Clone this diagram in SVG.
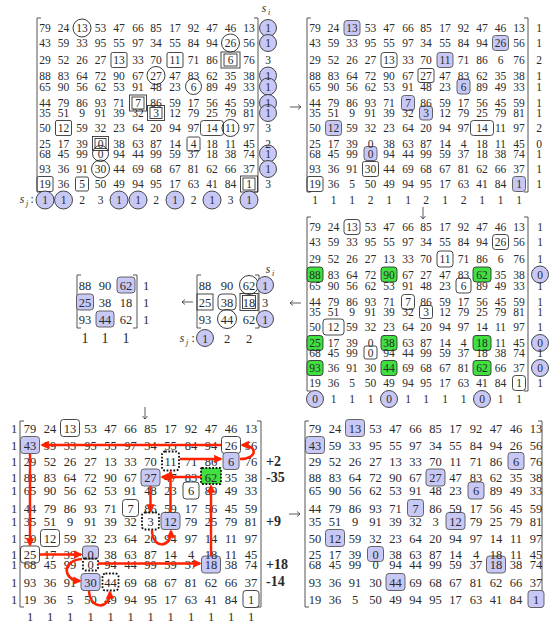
<svg xmlns="http://www.w3.org/2000/svg" width="552" height="625" viewBox="0 0 552 625">
<defs>
<style>
text{font-family:"Liberation Serif","Times New Roman",serif;fill:#2a2a2a;text-anchor:middle}
.m{font-size:11.5px}
.b{font-size:12.5px}
.b5{font-size:12.5px}
.it{font-style:italic}
.sub{font-style:italic;font-size:8px}
.bold{font-weight:bold;font-size:14px;text-anchor:start}
.bx{fill:none;stroke:#333;stroke-width:0.9}
.fb{fill:#c8c8f6;stroke:#555;stroke-width:0.9}
.gb{fill:#3fe03f;stroke:#333;stroke-width:0.9}
.dt{fill:none;stroke:#111;stroke-width:1.8;stroke-dasharray:1.8 1.6}
.dg{fill:#3fe03f;stroke:#111;stroke-width:1.8;stroke-dasharray:1.8 1.6}
.ci{fill:none;stroke:#222;stroke-width:0.9}
.cf{fill:#c8c8f6;stroke:#333;stroke-width:0.9}
.br{fill:none;stroke:#555;stroke-width:1}
.red{fill:none;stroke:#ff2200;stroke-width:2.5;marker-end:url(#ah)}
.ar{fill:none;stroke:#333;stroke-width:0.8}
</style>
<marker id="ah" viewBox="0 0 10 10" refX="8" refY="5" markerWidth="3.4" markerHeight="3.4" orient="auto"><path d="M0,0 L10,5 L0,10 z" fill="#ff2200"/></marker>
</defs>

<g id="m1" transform="translate(45,0)">
<path class="br" d="M-4,18H-8V192H-4M209,18H213V192H209"/>
<circle class="ci" cx="37" cy="28" r="9"/>
<circle class="ci" cx="185.5" cy="43" r="9"/>
<circle class="ci" cx="111" cy="75.5" r="9"/>
<circle class="ci" cx="148.5" cy="86.5" r="8"/>
<circle class="ci" cx="185.5" cy="128" r="8.5"/>
<circle class="ci" cx="55.5" cy="153.5" r="8"/>
<circle class="ci" cx="55.5" cy="169" r="9"/>
<rect class="bx" x="66" y="52.5" width="16" height="15" rx="1.5"/>
<rect class="bx" x="122" y="52.5" width="16" height="15" rx="1.5"/>
<rect class="bx" x="10.5" y="120.5" width="16" height="15" rx="1.5"/>
<rect class="bx" x="142" y="137" width="13" height="14" rx="1.5"/>
<rect class="bx" x="-8" y="176.5" width="16" height="15" rx="1.5"/>
<rect class="bx" x="30.5" y="177" width="13" height="14" rx="1.5"/>
<rect class="bx" x="155.5" y="120.5" width="23" height="15" rx="3"/>
<rect class="bx" x="176" y="52" width="19" height="16"/><rect class="bx" x="179" y="54" width="13" height="12"/>
<rect class="bx" x="84.5" y="95" width="17" height="16"/><rect class="bx" x="87" y="97" width="12" height="12"/>
<rect class="bx" x="102.5" y="105.5" width="17" height="15"/><rect class="bx" x="105" y="107.5" width="12" height="11"/>
<rect class="bx" x="47.5" y="136.5" width="16" height="14"/><rect class="bx" x="50" y="138.5" width="11" height="10"/>
<rect class="bx" x="195.5" y="176" width="17" height="16"/><rect class="bx" x="198" y="178" width="12" height="12"/>
<text class="m" y="32"><tspan x="0">79</tspan><tspan x="18.5">24</tspan><tspan x="37">13</tspan><tspan x="55.5">53</tspan><tspan x="74">47</tspan><tspan x="93">66</tspan><tspan x="111">85</tspan><tspan x="130">17</tspan><tspan x="148.5">92</tspan><tspan x="167">47</tspan><tspan x="185.5">46</tspan><tspan x="204">13</tspan></text>
<text class="m" y="47"><tspan x="0">43</tspan><tspan x="18.5">59</tspan><tspan x="37">33</tspan><tspan x="55.5">95</tspan><tspan x="74">55</tspan><tspan x="93">97</tspan><tspan x="111">34</tspan><tspan x="130">55</tspan><tspan x="148.5">84</tspan><tspan x="167">94</tspan><tspan x="185.5">26</tspan><tspan x="204">56</tspan></text>
<text class="m" y="64"><tspan x="0">29</tspan><tspan x="18.5">52</tspan><tspan x="37">26</tspan><tspan x="55.5">27</tspan><tspan x="74">13</tspan><tspan x="93">33</tspan><tspan x="111">70</tspan><tspan x="130">11</tspan><tspan x="148.5">71</tspan><tspan x="167">86</tspan><tspan x="185.5">6</tspan><tspan x="204">76</tspan></text>
<text class="m" y="79.5"><tspan x="0">88</tspan><tspan x="18.5">83</tspan><tspan x="37">64</tspan><tspan x="55.5">72</tspan><tspan x="74">90</tspan><tspan x="93">67</tspan><tspan x="111">27</tspan><tspan x="130">47</tspan><tspan x="148.5">83</tspan><tspan x="167">62</tspan><tspan x="185.5">35</tspan><tspan x="204">38</tspan></text>
<text class="m" y="90.5"><tspan x="0">65</tspan><tspan x="18.5">90</tspan><tspan x="37">56</tspan><tspan x="55.5">62</tspan><tspan x="74">53</tspan><tspan x="93">91</tspan><tspan x="111">48</tspan><tspan x="130">23</tspan><tspan x="148.5">6</tspan><tspan x="167">89</tspan><tspan x="185.5">49</tspan><tspan x="204">33</tspan></text>
<text class="m" y="107"><tspan x="0">44</tspan><tspan x="18.5">79</tspan><tspan x="37">86</tspan><tspan x="55.5">93</tspan><tspan x="74">71</tspan><tspan x="93">7</tspan><tspan x="111">86</tspan><tspan x="130">59</tspan><tspan x="148.5">17</tspan><tspan x="167">56</tspan><tspan x="185.5">45</tspan><tspan x="204">59</tspan></text>
<text class="m" y="117"><tspan x="0">35</tspan><tspan x="18.5">51</tspan><tspan x="37">9</tspan><tspan x="55.5">91</tspan><tspan x="74">39</tspan><tspan x="93">32</tspan><tspan x="111">3</tspan><tspan x="130">12</tspan><tspan x="148.5">79</tspan><tspan x="167">25</tspan><tspan x="185.5">79</tspan><tspan x="204">81</tspan></text>
<text class="m" y="132"><tspan x="0">50</tspan><tspan x="18.5">12</tspan><tspan x="37">59</tspan><tspan x="55.5">32</tspan><tspan x="74">23</tspan><tspan x="93">64</tspan><tspan x="111">20</tspan><tspan x="130">94</tspan><tspan x="148.5">97</tspan><tspan x="167">14</tspan><tspan x="185.5">11</tspan><tspan x="204">97</tspan></text>
<text class="m" y="148"><tspan x="0">25</tspan><tspan x="18.5">17</tspan><tspan x="37">39</tspan><tspan x="55.5">0</tspan><tspan x="74">38</tspan><tspan x="93">63</tspan><tspan x="111">87</tspan><tspan x="130">14</tspan><tspan x="148.5">4</tspan><tspan x="167">18</tspan><tspan x="185.5">11</tspan><tspan x="204">45</tspan></text>
<text class="m" y="157.5"><tspan x="0">68</tspan><tspan x="18.5">45</tspan><tspan x="37">99</tspan><tspan x="55.5">0</tspan><tspan x="74">94</tspan><tspan x="93">44</tspan><tspan x="111">99</tspan><tspan x="130">59</tspan><tspan x="148.5">37</tspan><tspan x="167">18</tspan><tspan x="185.5">38</tspan><tspan x="204">74</tspan></text>
<text class="m" y="173"><tspan x="0">93</tspan><tspan x="18.5">36</tspan><tspan x="37">91</tspan><tspan x="55.5">30</tspan><tspan x="74">44</tspan><tspan x="93">69</tspan><tspan x="111">68</tspan><tspan x="130">67</tspan><tspan x="148.5">81</tspan><tspan x="167">62</tspan><tspan x="185.5">66</tspan><tspan x="204">37</tspan></text>
<text class="m" y="188"><tspan x="0">19</tspan><tspan x="18.5">36</tspan><tspan x="37">5</tspan><tspan x="55.5">50</tspan><tspan x="74">49</tspan><tspan x="93">94</tspan><tspan x="111">95</tspan><tspan x="130">17</tspan><tspan x="148.5">63</tspan><tspan x="167">41</tspan><tspan x="185.5">84</tspan><tspan x="204">1</tspan></text>
<text class="m it" x="219" y="12">s</text><text class="sub" x="224" y="15">i</text>
<circle class="cf" cx="223" cy="28" r="8.5"/><circle class="cf" cx="223" cy="43" r="8.5"/><circle class="cf" cx="223" cy="75.5" r="8.5"/><circle class="cf" cx="223" cy="86.5" r="8.5"/><circle class="cf" cx="223" cy="103" r="8.5"/><circle class="cf" cx="223" cy="113" r="8.5"/><circle class="cf" cx="223" cy="153.5" r="8.5"/><circle class="cf" cx="223" cy="169" r="8.5"/>
<text class="m" x="223" y="32">1</text><text class="m" x="223" y="47">1</text><text class="m" x="223" y="64">3</text><text class="m" x="223" y="79.5">1</text><text class="m" x="223" y="90.5">1</text><text class="m" x="223" y="107">1</text><text class="m" x="223" y="117">1</text><text class="m" x="223" y="132">3</text><text class="m" x="223" y="148">2</text><text class="m" x="223" y="157.5">1</text><text class="m" x="223" y="173">1</text><text class="m" x="223" y="188">3</text>
<text class="m it" x="-23" y="203">s</text><text class="sub" x="-18" y="206">j</text><text class="m" x="-13" y="203">:</text>
<circle class="cf" cx="0" cy="200" r="9"/><circle class="cf" cx="18.5" cy="200" r="9"/><circle class="cf" cx="74" cy="200" r="9"/><circle class="cf" cx="93" cy="200" r="9"/><circle class="cf" cx="130" cy="200" r="9"/><circle class="cf" cx="167" cy="200" r="9"/><circle class="cf" cx="204" cy="200" r="9"/>
<text class="m" y="204"><tspan x="0">1</tspan><tspan x="18.5">1</tspan><tspan x="37">2</tspan><tspan x="55.5">3</tspan><tspan x="74">1</tspan><tspan x="93">1</tspan><tspan x="111">2</tspan><tspan x="130">1</tspan><tspan x="148.5">2</tspan><tspan x="167">1</tspan><tspan x="185.5">3</tspan><tspan x="204">1</tspan></text>
</g>

<g id="m2" transform="translate(315,0)">
<path class="br" d="M-4,18H-8V192H-4M209,18H213V192H209"/>
<rect class="fb" x="29" y="20.5" width="16" height="15" rx="3"/>
<rect class="fb" x="177.5" y="35.5" width="16" height="15" rx="3"/>
<rect class="fb" x="122" y="52.5" width="16" height="15" rx="3"/>
<rect class="fb" x="142" y="79" width="13" height="15" rx="3"/>
<rect class="fb" x="86.5" y="95.5" width="13" height="15" rx="3"/>
<rect class="fb" x="104.5" y="106" width="13" height="14" rx="3"/>
<rect class="fb" x="10.5" y="120.5" width="16" height="15" rx="3"/>
<rect class="fb" x="49" y="146.5" width="13" height="14" rx="3"/>
<rect class="fb" x="197.5" y="176.5" width="13" height="15" rx="3"/>
<rect class="bx" x="66" y="52.5" width="16" height="15" rx="3"/>
<rect class="bx" x="103" y="68.5" width="16" height="14" rx="2"/>
<rect class="bx" x="155.5" y="120.5" width="23" height="15" rx="3"/>
<rect class="bx" x="47.5" y="161.5" width="16" height="15" rx="2"/>
<rect class="bx" x="-8" y="176.5" width="16" height="15" rx="2"/>
<text class="m" y="32"><tspan x="0">79</tspan><tspan x="18.5">24</tspan><tspan x="37">13</tspan><tspan x="55.5">53</tspan><tspan x="74">47</tspan><tspan x="93">66</tspan><tspan x="111">85</tspan><tspan x="130">17</tspan><tspan x="148.5">92</tspan><tspan x="167">47</tspan><tspan x="185.5">46</tspan><tspan x="204">13</tspan></text>
<text class="m" y="47"><tspan x="0">43</tspan><tspan x="18.5">59</tspan><tspan x="37">33</tspan><tspan x="55.5">95</tspan><tspan x="74">55</tspan><tspan x="93">97</tspan><tspan x="111">34</tspan><tspan x="130">55</tspan><tspan x="148.5">84</tspan><tspan x="167">94</tspan><tspan x="185.5">26</tspan><tspan x="204">56</tspan></text>
<text class="m" y="64"><tspan x="0">29</tspan><tspan x="18.5">52</tspan><tspan x="37">26</tspan><tspan x="55.5">27</tspan><tspan x="74">13</tspan><tspan x="93">33</tspan><tspan x="111">70</tspan><tspan x="130">11</tspan><tspan x="148.5">71</tspan><tspan x="167">86</tspan><tspan x="185.5">6</tspan><tspan x="204">76</tspan></text>
<text class="m" y="79.5"><tspan x="0">88</tspan><tspan x="18.5">83</tspan><tspan x="37">64</tspan><tspan x="55.5">72</tspan><tspan x="74">90</tspan><tspan x="93">67</tspan><tspan x="111">27</tspan><tspan x="130">47</tspan><tspan x="148.5">83</tspan><tspan x="167">62</tspan><tspan x="185.5">35</tspan><tspan x="204">38</tspan></text>
<text class="m" y="90.5"><tspan x="0">65</tspan><tspan x="18.5">90</tspan><tspan x="37">56</tspan><tspan x="55.5">62</tspan><tspan x="74">53</tspan><tspan x="93">91</tspan><tspan x="111">48</tspan><tspan x="130">23</tspan><tspan x="148.5">6</tspan><tspan x="167">89</tspan><tspan x="185.5">49</tspan><tspan x="204">33</tspan></text>
<text class="m" y="107"><tspan x="0">44</tspan><tspan x="18.5">79</tspan><tspan x="37">86</tspan><tspan x="55.5">93</tspan><tspan x="74">71</tspan><tspan x="93">7</tspan><tspan x="111">86</tspan><tspan x="130">59</tspan><tspan x="148.5">17</tspan><tspan x="167">56</tspan><tspan x="185.5">45</tspan><tspan x="204">59</tspan></text>
<text class="m" y="117"><tspan x="0">35</tspan><tspan x="18.5">51</tspan><tspan x="37">9</tspan><tspan x="55.5">91</tspan><tspan x="74">39</tspan><tspan x="93">32</tspan><tspan x="111">3</tspan><tspan x="130">12</tspan><tspan x="148.5">79</tspan><tspan x="167">25</tspan><tspan x="185.5">79</tspan><tspan x="204">81</tspan></text>
<text class="m" y="132"><tspan x="0">50</tspan><tspan x="18.5">12</tspan><tspan x="37">59</tspan><tspan x="55.5">32</tspan><tspan x="74">23</tspan><tspan x="93">64</tspan><tspan x="111">20</tspan><tspan x="130">94</tspan><tspan x="148.5">97</tspan><tspan x="167">14</tspan><tspan x="185.5">11</tspan><tspan x="204">97</tspan></text>
<text class="m" y="148"><tspan x="0">25</tspan><tspan x="18.5">17</tspan><tspan x="37">39</tspan><tspan x="55.5">0</tspan><tspan x="74">38</tspan><tspan x="93">63</tspan><tspan x="111">87</tspan><tspan x="130">14</tspan><tspan x="148.5">4</tspan><tspan x="167">18</tspan><tspan x="185.5">11</tspan><tspan x="204">45</tspan></text>
<text class="m" y="157.5"><tspan x="0">68</tspan><tspan x="18.5">45</tspan><tspan x="37">99</tspan><tspan x="55.5">0</tspan><tspan x="74">94</tspan><tspan x="93">44</tspan><tspan x="111">99</tspan><tspan x="130">59</tspan><tspan x="148.5">37</tspan><tspan x="167">18</tspan><tspan x="185.5">38</tspan><tspan x="204">74</tspan></text>
<text class="m" y="173"><tspan x="0">93</tspan><tspan x="18.5">36</tspan><tspan x="37">91</tspan><tspan x="55.5">30</tspan><tspan x="74">44</tspan><tspan x="93">69</tspan><tspan x="111">68</tspan><tspan x="130">67</tspan><tspan x="148.5">81</tspan><tspan x="167">62</tspan><tspan x="185.5">66</tspan><tspan x="204">37</tspan></text>
<text class="m" y="188"><tspan x="0">19</tspan><tspan x="18.5">36</tspan><tspan x="37">5</tspan><tspan x="55.5">50</tspan><tspan x="74">49</tspan><tspan x="93">94</tspan><tspan x="111">95</tspan><tspan x="130">17</tspan><tspan x="148.5">63</tspan><tspan x="167">41</tspan><tspan x="185.5">84</tspan><tspan x="204">1</tspan></text>
<text class="m" x="224" y="32">1</text><text class="m" x="224" y="47">1</text><text class="m" x="224" y="64">2</text><text class="m" x="224" y="79.5">1</text><text class="m" x="224" y="90.5">1</text><text class="m" x="224" y="107">1</text><text class="m" x="224" y="117">1</text><text class="m" x="224" y="132">2</text><text class="m" x="224" y="148">0</text><text class="m" x="224" y="157.5">1</text><text class="m" x="224" y="173">1</text><text class="m" x="224" y="188">1</text>
<text class="m" y="204"><tspan x="0">1</tspan><tspan x="18.5">1</tspan><tspan x="37">1</tspan><tspan x="55.5">2</tspan><tspan x="74">1</tspan><tspan x="93">1</tspan><tspan x="111">2</tspan><tspan x="130">1</tspan><tspan x="148.5">2</tspan><tspan x="167">1</tspan><tspan x="185.5">1</tspan><tspan x="204">1</tspan></text>
</g>

<g id="m3" transform="translate(315,199)">
<path class="br" d="M-4,18H-8V192H-4M209,18H213V192H209"/>
<rect class="gb" x="-8" y="68" width="16" height="15" rx="3"/>
<rect class="gb" x="66" y="68" width="16" height="15" rx="3"/>
<rect class="gb" x="158" y="68" width="18" height="15" rx="3"/>
<rect class="gb" x="-8" y="136.5" width="16" height="15" rx="3"/>
<rect class="gb" x="66" y="136.5" width="16" height="15" rx="3"/>
<rect class="gb" x="158" y="136.5" width="18" height="15" rx="3"/>
<rect class="gb" x="-8" y="161.5" width="16" height="15" rx="3"/>
<rect class="gb" x="66" y="161.5" width="16" height="15" rx="3"/>
<rect class="gb" x="158" y="161.5" width="18" height="15" rx="3"/>
<rect class="bx" x="29" y="20.5" width="16" height="15" rx="3"/>
<rect class="bx" x="177.5" y="35.5" width="16" height="15" rx="3"/>
<rect class="bx" x="122" y="52" width="16" height="16" rx="3"/>
<rect class="bx" x="141" y="79" width="15" height="15" rx="3"/>
<rect class="bx" x="86.5" y="95.5" width="13" height="15" rx="3"/>
<rect class="bx" x="104.5" y="106.5" width="13" height="13" rx="2"/>
<rect class="bx" x="8" y="120" width="21" height="16" rx="3"/>
<rect class="bx" x="49" y="147" width="13" height="13" rx="2"/>
<rect class="bx" x="197.5" y="176.5" width="13" height="15" rx="3"/>
<text class="m" y="32"><tspan x="0">79</tspan><tspan x="18.5">24</tspan><tspan x="37">13</tspan><tspan x="55.5">53</tspan><tspan x="74">47</tspan><tspan x="93">66</tspan><tspan x="111">85</tspan><tspan x="130">17</tspan><tspan x="148.5">92</tspan><tspan x="167">47</tspan><tspan x="185.5">46</tspan><tspan x="204">13</tspan></text>
<text class="m" y="47"><tspan x="0">43</tspan><tspan x="18.5">59</tspan><tspan x="37">33</tspan><tspan x="55.5">95</tspan><tspan x="74">55</tspan><tspan x="93">97</tspan><tspan x="111">34</tspan><tspan x="130">55</tspan><tspan x="148.5">84</tspan><tspan x="167">94</tspan><tspan x="185.5">26</tspan><tspan x="204">56</tspan></text>
<text class="m" y="64"><tspan x="0">29</tspan><tspan x="18.5">52</tspan><tspan x="37">26</tspan><tspan x="55.5">27</tspan><tspan x="74">13</tspan><tspan x="93">33</tspan><tspan x="111">70</tspan><tspan x="130">11</tspan><tspan x="148.5">71</tspan><tspan x="167">86</tspan><tspan x="185.5">6</tspan><tspan x="204">76</tspan></text>
<text class="m" y="79.5"><tspan x="0">88</tspan><tspan x="18.5">83</tspan><tspan x="37">64</tspan><tspan x="55.5">72</tspan><tspan x="74">90</tspan><tspan x="93">67</tspan><tspan x="111">27</tspan><tspan x="130">47</tspan><tspan x="148.5">83</tspan><tspan x="167">62</tspan><tspan x="185.5">35</tspan><tspan x="204">38</tspan></text>
<text class="m" y="90.5"><tspan x="0">65</tspan><tspan x="18.5">90</tspan><tspan x="37">56</tspan><tspan x="55.5">62</tspan><tspan x="74">53</tspan><tspan x="93">91</tspan><tspan x="111">48</tspan><tspan x="130">23</tspan><tspan x="148.5">6</tspan><tspan x="167">89</tspan><tspan x="185.5">49</tspan><tspan x="204">33</tspan></text>
<text class="m" y="107"><tspan x="0">44</tspan><tspan x="18.5">79</tspan><tspan x="37">86</tspan><tspan x="55.5">93</tspan><tspan x="74">71</tspan><tspan x="93">7</tspan><tspan x="111">86</tspan><tspan x="130">59</tspan><tspan x="148.5">17</tspan><tspan x="167">56</tspan><tspan x="185.5">45</tspan><tspan x="204">59</tspan></text>
<text class="m" y="117"><tspan x="0">35</tspan><tspan x="18.5">51</tspan><tspan x="37">9</tspan><tspan x="55.5">91</tspan><tspan x="74">39</tspan><tspan x="93">32</tspan><tspan x="111">3</tspan><tspan x="130">12</tspan><tspan x="148.5">79</tspan><tspan x="167">25</tspan><tspan x="185.5">79</tspan><tspan x="204">81</tspan></text>
<text class="m" y="132"><tspan x="0">50</tspan><tspan x="18.5">12</tspan><tspan x="37">59</tspan><tspan x="55.5">32</tspan><tspan x="74">23</tspan><tspan x="93">64</tspan><tspan x="111">20</tspan><tspan x="130">94</tspan><tspan x="148.5">97</tspan><tspan x="167">14</tspan><tspan x="185.5">11</tspan><tspan x="204">97</tspan></text>
<text class="m" y="148"><tspan x="0">25</tspan><tspan x="18.5">17</tspan><tspan x="37">39</tspan><tspan x="55.5">0</tspan><tspan x="74">38</tspan><tspan x="93">63</tspan><tspan x="111">87</tspan><tspan x="130">14</tspan><tspan x="148.5">4</tspan><tspan x="167">18</tspan><tspan x="185.5">11</tspan><tspan x="204">45</tspan></text>
<text class="m" y="157.5"><tspan x="0">68</tspan><tspan x="18.5">45</tspan><tspan x="37">99</tspan><tspan x="55.5">0</tspan><tspan x="74">94</tspan><tspan x="93">44</tspan><tspan x="111">99</tspan><tspan x="130">59</tspan><tspan x="148.5">37</tspan><tspan x="167">18</tspan><tspan x="185.5">38</tspan><tspan x="204">74</tspan></text>
<text class="m" y="173"><tspan x="0">93</tspan><tspan x="18.5">36</tspan><tspan x="37">91</tspan><tspan x="55.5">30</tspan><tspan x="74">44</tspan><tspan x="93">69</tspan><tspan x="111">68</tspan><tspan x="130">67</tspan><tspan x="148.5">81</tspan><tspan x="167">62</tspan><tspan x="185.5">66</tspan><tspan x="204">37</tspan></text>
<text class="m" y="188"><tspan x="0">19</tspan><tspan x="18.5">36</tspan><tspan x="37">5</tspan><tspan x="55.5">50</tspan><tspan x="74">49</tspan><tspan x="93">94</tspan><tspan x="111">95</tspan><tspan x="130">17</tspan><tspan x="148.5">63</tspan><tspan x="167">41</tspan><tspan x="185.5">84</tspan><tspan x="204">1</tspan></text>
<circle class="cf" cx="225" cy="75.5" r="8.5"/><circle class="cf" cx="225" cy="144" r="8.5"/><circle class="cf" cx="225" cy="169" r="8.5"/>
<text class="m" x="225" y="32">1</text><text class="m" x="225" y="47">1</text><text class="m" x="225" y="64">1</text><text class="m" x="225" y="79.5">0</text><text class="m" x="225" y="90.5">1</text><text class="m" x="225" y="107">1</text><text class="m" x="225" y="117">1</text><text class="m" x="225" y="132">1</text><text class="m" x="225" y="148">0</text><text class="m" x="225" y="157.5">1</text><text class="m" x="225" y="173">0</text><text class="m" x="225" y="188">1</text>
<circle class="cf" cx="0" cy="200" r="8.5"/><circle class="cf" cx="74" cy="200" r="8.5"/><circle class="cf" cx="167" cy="200" r="8.5"/>
<text class="m" y="204"><tspan x="0">0</tspan><tspan x="18.5">1</tspan><tspan x="37">1</tspan><tspan x="55.5">1</tspan><tspan x="74">0</tspan><tspan x="93">1</tspan><tspan x="111">1</tspan><tspan x="130">1</tspan><tspan x="148.5">1</tspan><tspan x="167">0</tspan><tspan x="185.5">1</tspan><tspan x="204">1</tspan></text>
</g>

<g id="s1">
<path class="br" d="M81,275H77V328H81M133,275H137V328H133"/>
<rect class="fb" x="117" y="277" width="18" height="16" rx="3"/>
<rect class="fb" x="76.5" y="294" width="17" height="16" rx="3"/>
<rect class="fb" x="96" y="311" width="18" height="16" rx="3"/>
<text class="b" y="289.5"><tspan x="85">88</tspan><tspan x="105">90</tspan><tspan x="126">62</tspan><tspan x="146">1</tspan></text>
<text class="b" y="306.5"><tspan x="85">25</tspan><tspan x="105">38</tspan><tspan x="126">18</tspan><tspan x="146">1</tspan></text>
<text class="b" y="323.5"><tspan x="85">93</tspan><tspan x="105">44</tspan><tspan x="126">62</tspan><tspan x="146">1</tspan></text>
<text class="b" style="font-size:14px" y="343"><tspan x="85">1</tspan><tspan x="105">1</tspan><tspan x="126">1</tspan></text>
</g>

<g id="s2">
<path class="br" d="M201,275H197V328H201M255,275H259V328H255"/>
<circle class="ci" cx="249" cy="285" r="9.5"/>
<rect class="bx" x="197" y="294" width="16" height="16"/>
<rect class="bx" x="218" y="294" width="18" height="16" rx="4"/>
<rect class="bx" x="240" y="293.5" width="18" height="17"/><rect class="bx" x="242.5" y="295.5" width="13" height="13"/>
<circle class="ci" cx="227" cy="319" r="9.5"/>
<text class="b" y="289.5"><tspan x="205">88</tspan><tspan x="227">90</tspan><tspan x="249">62</tspan></text>
<text class="b" y="306.5"><tspan x="205">25</tspan><tspan x="227">38</tspan><tspan x="249">18</tspan></text>
<text class="b" y="323.5"><tspan x="205">93</tspan><tspan x="227">44</tspan><tspan x="249">62</tspan></text>
<text class="m it" x="268" y="273">s</text><text class="sub" x="273" y="276">i</text>
<circle class="cf" cx="265" cy="285" r="8.5"/><circle class="cf" cx="265" cy="319" r="8.5"/>
<text class="b" x="265" y="289.5">1</text><text class="b" x="265" y="306.5">3</text><text class="b" x="265" y="323.5">1</text>
<text class="m it" x="182" y="342">s</text><text class="sub" x="187" y="345">j</text><text class="m" x="193" y="342">:</text>
<circle class="cf" cx="205" cy="338" r="8.5"/>
<text class="b" y="342.5"><tspan x="205">1</tspan><tspan x="227">2</tspan><tspan x="249">2</tspan></text>
</g>

<g id="m4" transform="translate(30,0)">
<path class="br" d="M-6,421H-10V607H-6M227,421H231V607H227"/>
<rect class="bx" x="30.5" y="419.5" width="19" height="17" rx="3"/>
<rect class="bx" x="191.5" y="436.5" width="19" height="17" rx="3"/>
<rect class="bx" x="153" y="482" width="16" height="17" rx="3"/>
<rect class="bx" x="92.5" y="499.5" width="16" height="17" rx="3"/>
<rect class="bx" x="10.5" y="529.5" width="19" height="17" rx="3"/>
<rect class="bx" x="-9.5" y="546" width="19" height="17" rx="3"/>
<rect class="bx" x="213" y="590.5" width="16" height="17" rx="3"/>
<rect class="fb" x="-9.5" y="436.5" width="19" height="17" rx="3"/>
<rect class="fb" x="193" y="452.5" width="16" height="17" rx="3"/>
<rect class="fb" x="111" y="469" width="19" height="17" rx="3"/>
<rect class="fb" x="131" y="512.5" width="19" height="17" rx="3"/>
<rect class="fb" x="52.5" y="546" width="16" height="13" rx="3"/>
<rect class="fb" x="171.5" y="556" width="19" height="17" rx="3"/>
<rect class="fb" x="51" y="573.5" width="19" height="17" rx="3"/>
<rect class="dt" x="132" y="451.5" width="17" height="19" rx="3"/>
<rect class="dg" x="171" y="468" width="20" height="16" rx="1"/>
<rect class="dt" x="112" y="512.5" width="17" height="17" rx="3"/>
<rect class="dt" x="53" y="558.5" width="15" height="12" rx="2"/>
<rect class="dt" x="72.5" y="573.5" width="16" height="17" rx="3"/>
<text class="b" y="432.5"><tspan x="-16">1</tspan><tspan x="0">79</tspan><tspan x="20">24</tspan><tspan x="40">13</tspan><tspan x="60.5">53</tspan><tspan x="80.5">47</tspan><tspan x="100.5">66</tspan><tspan x="120.5">85</tspan><tspan x="140.5">17</tspan><tspan x="161">92</tspan><tspan x="181">47</tspan><tspan x="201">46</tspan><tspan x="221">13</tspan></text>
<text class="b" y="449.5"><tspan x="-16">1</tspan><tspan x="0">43</tspan><tspan x="20">59</tspan><tspan x="40">33</tspan><tspan x="60.5">95</tspan><tspan x="80.5">55</tspan><tspan x="100.5">97</tspan><tspan x="120.5">34</tspan><tspan x="140.5">55</tspan><tspan x="161">84</tspan><tspan x="181">94</tspan><tspan x="201">26</tspan><tspan x="221">56</tspan></text>
<text class="b" y="465.5"><tspan x="-16">1</tspan><tspan x="0">29</tspan><tspan x="20">52</tspan><tspan x="40">26</tspan><tspan x="60.5">27</tspan><tspan x="80.5">13</tspan><tspan x="100.5">33</tspan><tspan x="120.5">70</tspan><tspan x="140.5">11</tspan><tspan x="161">71</tspan><tspan x="181">86</tspan><tspan x="201">6</tspan><tspan x="221">76</tspan></text>
<text class="b" y="482"><tspan x="-16">1</tspan><tspan x="0">88</tspan><tspan x="20">83</tspan><tspan x="40">64</tspan><tspan x="60.5">72</tspan><tspan x="80.5">90</tspan><tspan x="100.5">67</tspan><tspan x="120.5">27</tspan><tspan x="140.5">47</tspan><tspan x="161">83</tspan><tspan x="181">62</tspan><tspan x="201">35</tspan><tspan x="221">38</tspan></text>
<text class="b" y="495"><tspan x="-16">1</tspan><tspan x="0">65</tspan><tspan x="20">90</tspan><tspan x="40">56</tspan><tspan x="60.5">62</tspan><tspan x="80.5">53</tspan><tspan x="100.5">91</tspan><tspan x="120.5">48</tspan><tspan x="140.5">23</tspan><tspan x="161">6</tspan><tspan x="181">89</tspan><tspan x="201">49</tspan><tspan x="221">33</tspan></text>
<text class="b" y="512.5"><tspan x="-16">1</tspan><tspan x="0">44</tspan><tspan x="20">79</tspan><tspan x="40">86</tspan><tspan x="60.5">93</tspan><tspan x="80.5">71</tspan><tspan x="100.5">7</tspan><tspan x="120.5">86</tspan><tspan x="140.5">59</tspan><tspan x="161">17</tspan><tspan x="181">56</tspan><tspan x="201">45</tspan><tspan x="221">59</tspan></text>
<text class="b" y="525.5"><tspan x="-16">1</tspan><tspan x="0">35</tspan><tspan x="20">51</tspan><tspan x="40">9</tspan><tspan x="60.5">91</tspan><tspan x="80.5">39</tspan><tspan x="100.5">32</tspan><tspan x="120.5">3</tspan><tspan x="140.5">12</tspan><tspan x="161">79</tspan><tspan x="181">25</tspan><tspan x="201">79</tspan><tspan x="221">81</tspan></text>
<text class="b" y="542.5"><tspan x="-16">1</tspan><tspan x="0">50</tspan><tspan x="20">12</tspan><tspan x="40">59</tspan><tspan x="60.5">32</tspan><tspan x="80.5">23</tspan><tspan x="100.5">64</tspan><tspan x="120.5">20</tspan><tspan x="140.5">94</tspan><tspan x="161">97</tspan><tspan x="181">14</tspan><tspan x="201">11</tspan><tspan x="221">97</tspan></text>
<text class="b" y="559"><tspan x="-16">1</tspan><tspan x="0">25</tspan><tspan x="20">17</tspan><tspan x="40">39</tspan><tspan x="60.5">0</tspan><tspan x="80.5">38</tspan><tspan x="100.5">63</tspan><tspan x="120.5">87</tspan><tspan x="140.5">14</tspan><tspan x="161">4</tspan><tspan x="181">18</tspan><tspan x="201">11</tspan><tspan x="221">45</tspan></text>
<text class="b" y="569"><tspan x="-16">1</tspan><tspan x="0">68</tspan><tspan x="20">45</tspan><tspan x="40">99</tspan><tspan x="60.5">0</tspan><tspan x="80.5">94</tspan><tspan x="100.5">44</tspan><tspan x="120.5">99</tspan><tspan x="140.5">59</tspan><tspan x="161">37</tspan><tspan x="181">18</tspan><tspan x="201">38</tspan><tspan x="221">74</tspan></text>
<text class="b" y="586.5"><tspan x="-16">1</tspan><tspan x="0">93</tspan><tspan x="20">36</tspan><tspan x="40">91</tspan><tspan x="60.5">30</tspan><tspan x="80.5">44</tspan><tspan x="100.5">69</tspan><tspan x="120.5">68</tspan><tspan x="140.5">67</tspan><tspan x="161">81</tspan><tspan x="181">62</tspan><tspan x="201">66</tspan><tspan x="221">37</tspan></text>
<text class="b" y="603.5"><tspan x="-16">1</tspan><tspan x="0">19</tspan><tspan x="20">36</tspan><tspan x="40">5</tspan><tspan x="60.5">50</tspan><tspan x="80.5">49</tspan><tspan x="100.5">94</tspan><tspan x="120.5">95</tspan><tspan x="140.5">17</tspan><tspan x="161">63</tspan><tspan x="181">41</tspan><tspan x="201">84</tspan><tspan x="221">1</tspan></text>
<text class="b" y="620.5"><tspan x="0">1</tspan><tspan x="20">1</tspan><tspan x="40">1</tspan><tspan x="60.5">1</tspan><tspan x="80.5">1</tspan><tspan x="100.5">1</tspan><tspan x="120.5">1</tspan><tspan x="140.5">1</tspan><tspan x="161">1</tspan><tspan x="181">1</tspan><tspan x="201">1</tspan><tspan x="221">1</tspan></text>
<text class="bold" x="236" y="466">+2</text>
<text class="bold" x="236" y="482">-35</text>
<text class="bold" x="236" y="526">+9</text>
<text class="bold" x="236" y="569">+18</text>
<text class="bold" x="236" y="586">-14</text>
</g>

<g id="m5" transform="translate(315,0)">
<path class="br" d="M-6,421H-10V607H-6M223,421H227V607H223"/>
<rect class="fb" x="30.5" y="419.5" width="19" height="17" rx="3"/>
<rect class="fb" x="-9.5" y="436.5" width="19" height="17" rx="3"/>
<rect class="fb" x="193" y="452.5" width="16" height="17" rx="3"/>
<rect class="fb" x="111" y="469" width="19" height="17" rx="3"/>
<rect class="fb" x="153" y="482" width="16" height="17" rx="3"/>
<rect class="fb" x="92.5" y="499.5" width="16" height="17" rx="3"/>
<rect class="fb" x="131" y="512.5" width="19" height="17" rx="3"/>
<rect class="fb" x="10.5" y="529.5" width="19" height="17" rx="3"/>
<rect class="fb" x="52.5" y="546.5" width="16" height="15" rx="3"/>
<rect class="fb" x="171.5" y="556" width="19" height="17" rx="3"/>
<rect class="fb" x="71" y="573.5" width="19" height="17" rx="3"/>
<rect class="fb" x="213" y="590.5" width="16" height="17" rx="3"/>
<text class="b5" y="432.5"><tspan x="0">79</tspan><tspan x="20">24</tspan><tspan x="40">13</tspan><tspan x="60.5">53</tspan><tspan x="80.5">47</tspan><tspan x="100.5">66</tspan><tspan x="120.5">85</tspan><tspan x="140.5">17</tspan><tspan x="161">92</tspan><tspan x="181">47</tspan><tspan x="201">46</tspan><tspan x="221">13</tspan></text>
<text class="b5" y="449.5"><tspan x="0">43</tspan><tspan x="20">59</tspan><tspan x="40">33</tspan><tspan x="60.5">95</tspan><tspan x="80.5">55</tspan><tspan x="100.5">97</tspan><tspan x="120.5">34</tspan><tspan x="140.5">55</tspan><tspan x="161">84</tspan><tspan x="181">94</tspan><tspan x="201">26</tspan><tspan x="221">56</tspan></text>
<text class="b5" y="465.5"><tspan x="0">29</tspan><tspan x="20">52</tspan><tspan x="40">26</tspan><tspan x="60.5">27</tspan><tspan x="80.5">13</tspan><tspan x="100.5">33</tspan><tspan x="120.5">70</tspan><tspan x="140.5">11</tspan><tspan x="161">71</tspan><tspan x="181">86</tspan><tspan x="201">6</tspan><tspan x="221">76</tspan></text>
<text class="b5" y="482"><tspan x="0">88</tspan><tspan x="20">83</tspan><tspan x="40">64</tspan><tspan x="60.5">72</tspan><tspan x="80.5">90</tspan><tspan x="100.5">67</tspan><tspan x="120.5">27</tspan><tspan x="140.5">47</tspan><tspan x="161">83</tspan><tspan x="181">62</tspan><tspan x="201">35</tspan><tspan x="221">38</tspan></text>
<text class="b5" y="495"><tspan x="0">65</tspan><tspan x="20">90</tspan><tspan x="40">56</tspan><tspan x="60.5">62</tspan><tspan x="80.5">53</tspan><tspan x="100.5">91</tspan><tspan x="120.5">48</tspan><tspan x="140.5">23</tspan><tspan x="161">6</tspan><tspan x="181">89</tspan><tspan x="201">49</tspan><tspan x="221">33</tspan></text>
<text class="b5" y="512.5"><tspan x="0">44</tspan><tspan x="20">79</tspan><tspan x="40">86</tspan><tspan x="60.5">93</tspan><tspan x="80.5">71</tspan><tspan x="100.5">7</tspan><tspan x="120.5">86</tspan><tspan x="140.5">59</tspan><tspan x="161">17</tspan><tspan x="181">56</tspan><tspan x="201">45</tspan><tspan x="221">59</tspan></text>
<text class="b5" y="525.5"><tspan x="0">35</tspan><tspan x="20">51</tspan><tspan x="40">9</tspan><tspan x="60.5">91</tspan><tspan x="80.5">39</tspan><tspan x="100.5">32</tspan><tspan x="120.5">3</tspan><tspan x="140.5">12</tspan><tspan x="161">79</tspan><tspan x="181">25</tspan><tspan x="201">79</tspan><tspan x="221">81</tspan></text>
<text class="b5" y="542.5"><tspan x="0">50</tspan><tspan x="20">12</tspan><tspan x="40">59</tspan><tspan x="60.5">32</tspan><tspan x="80.5">23</tspan><tspan x="100.5">64</tspan><tspan x="120.5">20</tspan><tspan x="140.5">94</tspan><tspan x="161">97</tspan><tspan x="181">14</tspan><tspan x="201">11</tspan><tspan x="221">97</tspan></text>
<text class="b5" y="559"><tspan x="0">25</tspan><tspan x="20">17</tspan><tspan x="40">39</tspan><tspan x="60.5">0</tspan><tspan x="80.5">38</tspan><tspan x="100.5">63</tspan><tspan x="120.5">87</tspan><tspan x="140.5">14</tspan><tspan x="161">4</tspan><tspan x="181">18</tspan><tspan x="201">11</tspan><tspan x="221">45</tspan></text>
<text class="b5" y="569"><tspan x="0">68</tspan><tspan x="20">45</tspan><tspan x="40">99</tspan><tspan x="60.5">0</tspan><tspan x="80.5">94</tspan><tspan x="100.5">44</tspan><tspan x="120.5">99</tspan><tspan x="140.5">59</tspan><tspan x="161">37</tspan><tspan x="181">18</tspan><tspan x="201">38</tspan><tspan x="221">74</tspan></text>
<text class="b5" y="586.5"><tspan x="0">93</tspan><tspan x="20">36</tspan><tspan x="40">91</tspan><tspan x="60.5">30</tspan><tspan x="80.5">44</tspan><tspan x="100.5">69</tspan><tspan x="120.5">68</tspan><tspan x="140.5">67</tspan><tspan x="161">81</tspan><tspan x="181">62</tspan><tspan x="201">66</tspan><tspan x="221">37</tspan></text>
<text class="b5" y="603.5"><tspan x="0">19</tspan><tspan x="20">36</tspan><tspan x="40">5</tspan><tspan x="60.5">50</tspan><tspan x="80.5">49</tspan><tspan x="100.5">94</tspan><tspan x="120.5">95</tspan><tspan x="140.5">17</tspan><tspan x="161">63</tspan><tspan x="181">41</tspan><tspan x="201">84</tspan><tspan x="221">1</tspan></text>
</g>

<g id="connectors">
<path class="ar" d="M290,107H301M298,104.5L301,107L298,109.5"/>
<path class="ar" d="M423,207V219M420.5,216L423,219L425.5,216"/>
<path class="ar" d="M301,303H290M293,300.5L290,303L293,305.5"/>
<path class="ar" d="M193,302H182M185,299.5L182,302L185,304.5"/>
<path class="ar" d="M145,407V419M142.5,416L145,419L147.5,416"/>
<path class="ar" d="M289,514H300M297,511.5L300,514L297,516.5"/>
<path class="red" d="M221,445H42"/>
<path class="red" d="M30,454V545"/>
<path class="red" d="M40,554.5H81"/>
<path class="red" d="M82,559C62,560 62,580 80,581"/>
<path class="red" d="M89,591C90,610 110,610 110,592"/>
<path class="red" d="M98,563.5H200"/>
<path class="red" d="M211,556V486"/>
<path class="red" d="M201,477H162"/>
<path class="red" d="M150.5,486V511"/>
<path class="red" d="M152,530C152,549 171,549 171,531"/>
<path class="red" d="M170.5,512V472"/>
<path class="red" d="M180,459H221"/>
<path class="red" d="M240,459C258,459 258,445 242,445"/>
</g>
</svg>
